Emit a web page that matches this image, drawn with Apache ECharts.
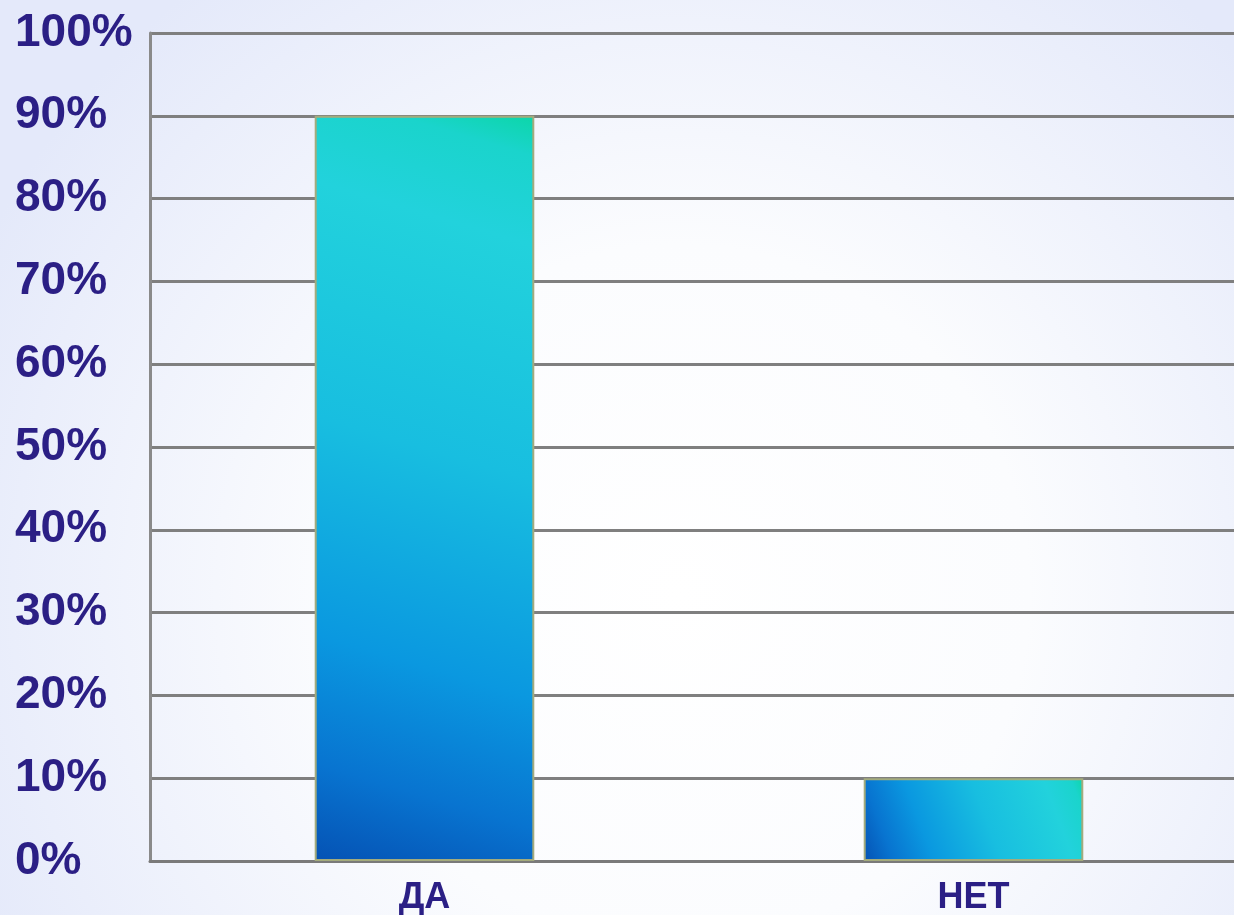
<!DOCTYPE html>
<html>
<head>
<meta charset="utf-8">
<script src="https://cdn.jsdelivr.net/npm/echarts@6/dist/echarts.min.js"></script>
<style>
html,body{margin:0;padding:0;width:1234px;height:915px;overflow:hidden;}
#c{width:1234px;height:915px;}
</style>
</head>
<body>
<div id="c"></div>
<script>
const categories = ['ДА', 'НЕТ'];
const values = [90, 10];
const yTicks = { min: 0, max: 100, interval: 10 };

const chart = echarts.init(document.getElementById('c'));
const barGrad = new echarts.graphic.LinearGradient(0, 1, 1, 0, [
  { offset: 0, color: '#0552b4' },
  { offset: 0.12, color: '#0874d0' },
  { offset: 0.28, color: '#0a98e0' },
  { offset: 0.55, color: '#18bee0' },
  { offset: 0.84, color: '#22d2dc' },
  { offset: 0.95, color: '#1ad4cc' },
  { offset: 1, color: '#0cd6a8' }
]);
chart.setOption({
  backgroundColor: new echarts.graphic.RadialGradient(0.55, 0.65, 0.85, [
    { offset: 0, color: '#ffffff' },
    { offset: 0.45, color: '#fbfcfe' },
    { offset: 1, color: '#e4e9fa' }
  ]),
  animation: false,
  grid: { left: 150, right: -14, top: 33, bottom: 54, outerBoundsMode: 'none', containLabel: false },
  xAxis: {
    type: 'category',
    data: categories,
    axisLine: { show: true, lineStyle: { color: '#7a7a7a', width: 3 } },
    axisTick: { show: false },
    axisLabel: {
      margin: 19,
      fontSize: 36,
      fontWeight: 'bold',
      fontFamily: 'Liberation Sans, Arial, sans-serif',
      color: '#2b1f85'
    }
  },
  yAxis: {
    type: 'value',
    min: yTicks.min,
    max: yTicks.max,
    interval: yTicks.interval,
    axisLine: { show: true, lineStyle: { color: '#8a8a8a', width: 3 } },
    axisTick: { show: false },
    splitLine: { show: true, lineStyle: { color: '#7f7f7f', width: 3 } },
    axisLabel: {
      formatter: '{value}%',
      align: 'left',
      margin: 135,
      fontSize: 46,
      fontWeight: 'bold',
      fontFamily: 'Liberation Sans, Arial, sans-serif',
      color: '#2b1f85'
    }
  },
  series: [{
    type: 'bar',
    data: values,
    barWidth: '40%',
    itemStyle: {
      color: barGrad,
      borderColor: '#a4ab7c',
      borderWidth: 2
    }
  }]
});
</script>
</body>
</html>
